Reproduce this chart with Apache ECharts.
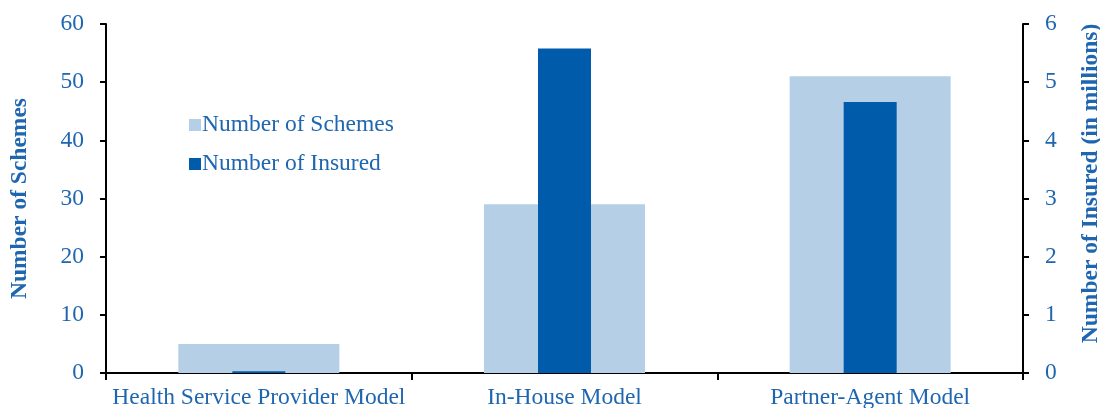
<!DOCTYPE html>
<html>
<head>
<meta charset="utf-8">
<script src="https://cdn.jsdelivr.net/npm/echarts@6/dist/echarts.min.js"></script>
<style>html,body{margin:0;padding:0;background:#fff}#c{width:1100px;height:408px}</style>
</head>
<body>
<div id="c"></div>
<script>
const categories = ['Health Service Provider Model', 'In-House Model', 'Partner-Agent Model'];
const schemes = [5, 29, 51];
const insured = [0.03, 5.58, 4.66];
const leftTicks = [0, 60, 10];
const rightTicks = [0, 6, 1];

const TXT = '#1f66b0';
const FONT = '"Liberation Serif", "Times New Roman", serif';
const FS = 23.5;
const chart = echarts.init(document.getElementById('c'));
chart.setOption({
  animation: false,
  textStyle: { fontFamily: FONT },
  grid: { left: 106, right: 77, top: 24, bottom: 35, outerBoundsMode: 'none', containLabel: false },
  legend: {
    orient: 'vertical', left: 184, top: 108, itemWidth: 12, itemHeight: 12, itemGap: 15,
    textStyle: { color: TXT, fontSize: FS, fontFamily: FONT, padding: [0, 0, 0, -4] },
    data: [{ name: 'Number of Schemes', icon: 'rect' }, { name: 'Number of Insured', icon: 'rect' }]
  },
  xAxis: [{
    type: 'category', data: categories,
    axisLine: { lineStyle: { color: '#000', width: 2 } },
    axisTick: { show: true, length: 7, lineStyle: { color: '#000', width: 2 } },
    axisLabel: { color: TXT, fontSize: FS, fontFamily: FONT, margin: 13, interval: 0 }
  }, {
    type: 'category', data: categories, show: false
  }],
  yAxis: [{
    type: 'value', min: leftTicks[0], max: leftTicks[1], interval: leftTicks[2],
    name: 'Number of Schemes', nameLocation: 'middle', nameRotate: 90, nameGap: 74,
    nameTextStyle: { color: TXT, fontSize: FS, fontWeight: 'bold', fontFamily: FONT },
    axisLine: { show: true, lineStyle: { color: '#000', width: 2 } },
    axisTick: { show: true, length: 6, lineStyle: { color: '#000', width: 2 } },
    axisLabel: { color: TXT, fontSize: FS, fontFamily: FONT, margin: 22 },
    splitLine: { show: false }
  }, {
    type: 'value', position: 'right', min: rightTicks[0], max: rightTicks[1], interval: rightTicks[2],
    name: 'Number of Insured (in millions)', nameLocation: 'middle', nameRotate: 90, nameGap: 56,
    nameTextStyle: { color: TXT, fontSize: FS, fontWeight: 'bold', fontFamily: FONT, padding: [0, 0, 0, 30] },
    axisLine: { show: true, lineStyle: { color: '#000', width: 2 } },
    axisTick: { show: true, length: 6, lineStyle: { color: '#000', width: 2 } },
    axisLabel: { color: TXT, fontSize: FS, fontFamily: FONT, margin: 22 },
    splitLine: { show: false }
  }],
  series: [{
    name: 'Number of Schemes', type: 'bar', xAxisIndex: 0, yAxisIndex: 0,
    data: schemes, barWidth: 161, itemStyle: { color: '#b5cfe7' }
  }, {
    name: 'Number of Insured', type: 'bar', xAxisIndex: 1, yAxisIndex: 1,
    data: insured, barWidth: 53, itemStyle: { color: '#005baa' }
  }]
});
</script>
</body>
</html>
